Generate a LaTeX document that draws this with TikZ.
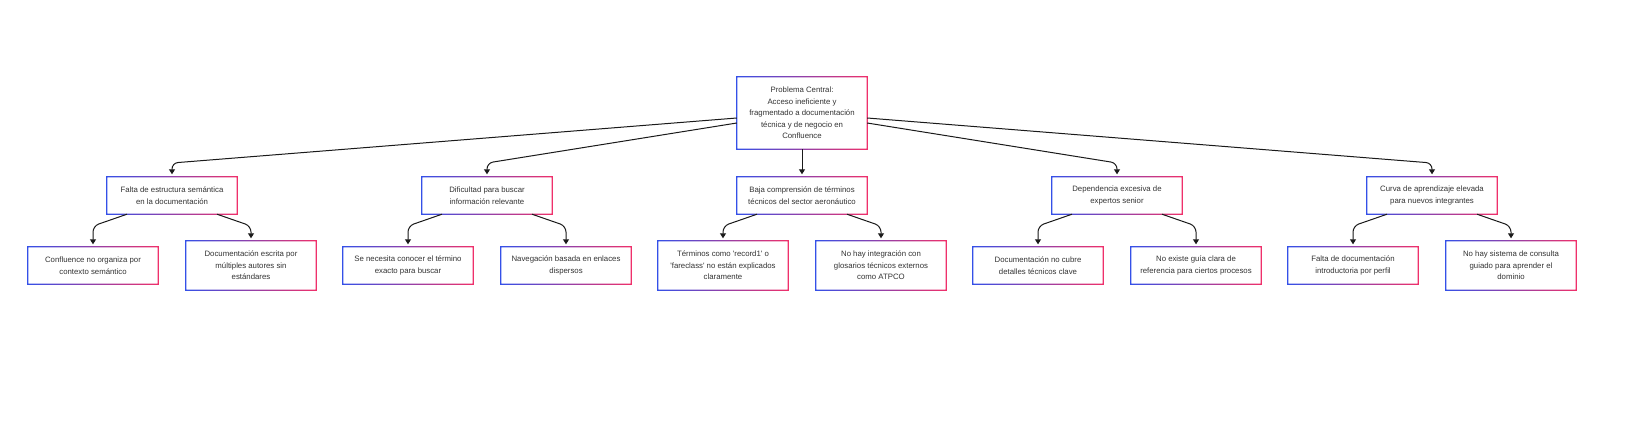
\documentclass[tikz,border=0pt]{standalone}
\usepackage{fontspec}
\setmainfont{Liberation Sans}[Ligatures=TeXOff]
\usetikzlibrary{arrows.meta,calc}
\definecolor{cb}{HTML}{3450E8}
\definecolor{cr}{HTML}{F0306A}
\definecolor{txt}{HTML}{333333}
\definecolor{ln}{HTML}{1A1A1A}
\begin{document}
\begin{tikzpicture}[x=1pt,y=-1pt,
 box/.style={fill=white, text=txt, align=center, minimum width=130pt, inner sep=1pt,
   font=\fontsize{7.8}{11.5}\selectfont},
 hb/.style={box, minimum height=37pt},
 hc/.style={box, minimum height=49pt},
 hm/.style={box, minimum height=72pt},
 arr/.style={draw=ln, line width=1pt, -{Triangle[length=5pt,width=6pt]},
   rounded corners=6pt, shorten >=2.5pt}
]
\fill[white] (0,0) rectangle (1638,421);
\useasboundingbox (0,0) rectangle (1638,421);

% centre
\node[hm] (c) at (802,113) {Problema Central:\\Acceso ineficiente y\\fragmentado a documentación\\técnica y de negocio en\\Confluence};

% level 2
\node[hb] (l1) at (172,195.5) {Falta de estructura semántica\\en la documentación};
\node[hb] (l2) at (487,195.5) {Dificultad para buscar\\información relevante};
\node[hb] (l3) at (802,195.5) {Baja comprensión de términos\\técnicos del sector aeronáutico};
\node[hb] (l4) at (1117,195.5) {Dependencia excesiva de\\expertos senior};
\node[hb] (l5) at (1432,195.5) {Curva de aprendizaje elevada\\para nuevos integrantes};

% level 3
\node[hb] (k11) at (93,265.5) {Confluence no organiza por\\contexto semántico};
\node[hc] (k12) at (251,265.5) {Documentación escrita por\\múltiples autores sin\\estándares};
\node[hb] (k21) at (408,265.5) {Se necesita conocer el término\\exacto para buscar};
\node[hb] (k22) at (566,265.5) {Navegación basada en enlaces\\dispersos};
\node[hc] (k31) at (723,265.5) {Términos como 'record1' o\\'fareclass' no están explicados\\claramente};
\node[hc] (k32) at (881,265.5) {No hay integración con\\glosarios técnicos externos\\como ATPCO};
\node[hb] (k41) at (1038,265.5) {Documentación no cubre\\detalles técnicos clave};
\node[hb] (k42) at (1196,265.5) {No existe guía clara de\\referencia para ciertos procesos};
\node[hb] (k51) at (1353,265.5) {Falta de documentación\\introductoria por perfil};
\node[hc] (k52) at (1511,265.5) {No hay sistema de consulta\\guiado para aprender el\\dominio};

% gradient frames
\foreach \n in {c,l1,l2,l3,l4,l5,k11,k12,k21,k22,k31,k32,k41,k42,k51,k52}{
  \shade[left color=cb, right color=cr, even odd rule]
    ([xshift=-0.65pt,yshift=-0.65pt]\n.south west) rectangle ([xshift=0.65pt,yshift=0.65pt]\n.north east)
    ([xshift=0.65pt,yshift=0.65pt]\n.south west) rectangle ([xshift=-0.65pt,yshift=-0.65pt]\n.north east);
}

% top-level connectors
\draw[arr] ([yshift=-5pt]c.west) -- (l1.north |- 0,163) -- (l1.north);
\draw[arr] ([yshift=-10pt]c.west) -- (l2.north |- 0,163) -- (l2.north);
\draw[arr] (c.south) -- (l3.north);
\draw[arr] ([yshift=-10pt]c.east) -- (l4.north |- 0,163) -- (l4.north);
\draw[arr] ([yshift=-5pt]c.east) -- (l5.north |- 0,163) -- (l5.north);

% level-2 to level-3 connectors
\foreach \p/\a/\b in {l1/k11/k12, l2/k21/k22, l3/k31/k32, l4/k41/k42, l5/k51/k52}{
  \draw[arr] ([xshift=-45pt]\p.south) -- (\a.north |- 0,226) -- (\a.north);
  \draw[arr] ([xshift=45pt]\p.south) -- (\b.north |- 0,226) -- (\b.north);
}
\end{tikzpicture}
\end{document}
